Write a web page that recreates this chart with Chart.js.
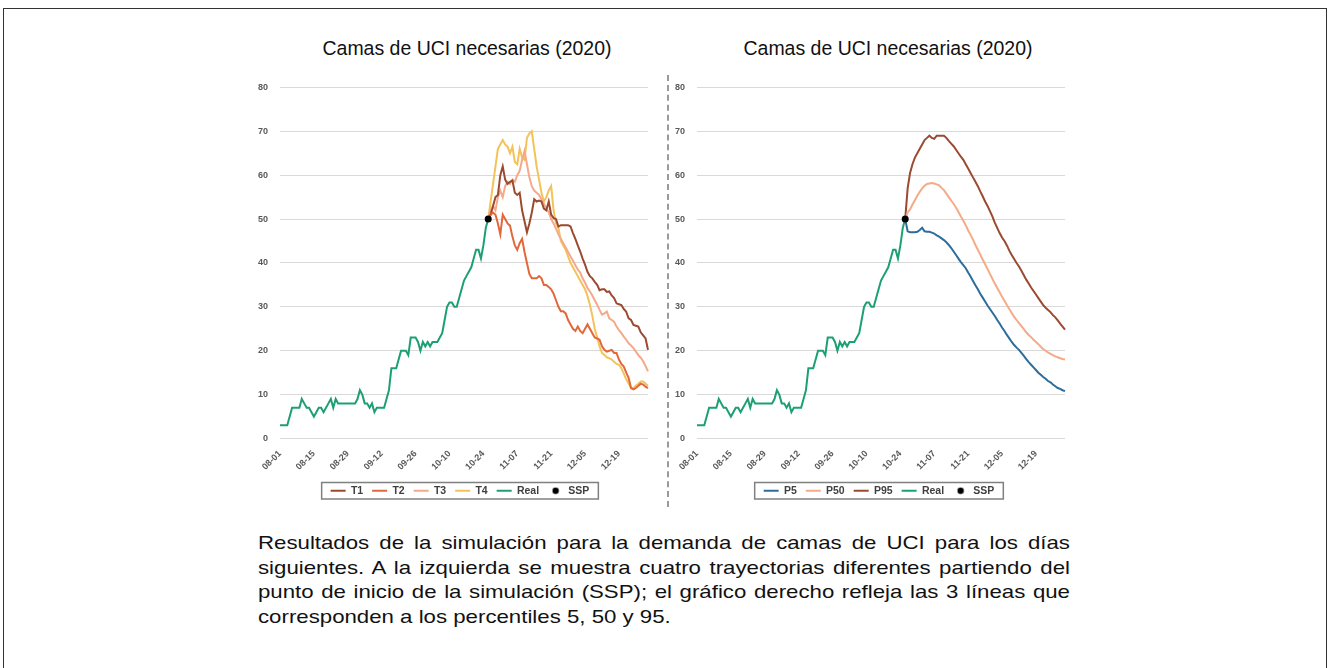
<!DOCTYPE html>
<html>
<head>
<meta charset="utf-8">
<script src="https://cdn.jsdelivr.net/npm/chart.js@4.4.0/dist/chart.umd.min.js"></script>
<style>
  body { margin: 0; background: #fff; width: 1330px; height: 668px; overflow: hidden; position: relative; font-family: 'Liberation Sans', Arial, sans-serif; }
  .frame { position: absolute; left: 3px; top: 8px; width: 1322px; height: 700px; border: 1.5px solid #333; }
  .title { position: absolute; top: 36px; width: 420px; text-align: center; font-size: 20.5px; color: #111; transform: scaleX(0.95); }
  .sep { position: absolute; left: 667px; top: 75px; height: 432px; border-left: 2px dashed #9a9a9a; }
  .box { position: absolute; }
  .caption { position: absolute; left: 258px; top: 531px; width: 694px; font-size: 19px; line-height: 24.5px; color: #111; transform: scaleX(1.17); transform-origin: 0 0; }
  .caption div { text-align: justify; text-align-last: justify; }
  .caption div.last { text-align-last: left; }
</style>
</head>
<body>
<div class="frame"></div>
<div class="title" style="left:257px">Camas de UCI necesarias (2020)</div>
<div class="title" style="left:678px">Camas de UCI necesarias (2020)</div>
<div class="sep"></div>
<div class="box" style="left:256px; top:70px"><canvas id="left" width="404" height="436"></canvas></div>
<div class="box" style="left:673px; top:70px"><canvas id="right" width="404" height="436"></canvas></div>
<div class="caption">
  <div>Resultados de la simulación para la demanda de camas de UCI para los días</div>
  <div>siguientes. A la izquierda se muestra cuatro trayectorias diferentes partiendo del</div>
  <div>punto de inicio de la simulación (SSP); el gráfico derecho refleja las 3 líneas que</div>
  <div class="last">corresponden a los percentiles 5, 50 y 95.</div>
</div>

<script>
// dates 08-01 .. 12-31, one label per day
const months = [['08', 31], ['09', 30], ['10', 31], ['11', 30], ['12', 31]];
const days = [];
months.forEach(([m, n]) => { for (let d = 1; d <= n; d++) days.push(m + '-' + String(d).padStart(2, '0')); });
const tickStep = 14;
const sspIndex = 86;   // 10-26
const sspValue = [50];

// observed beds, 08-01 .. 10-26
const real = [3,3,3,3,5,7,7,7,7,9, 8,7,7,6,5,6,7,7,6,7, 8,9,7,9,8,8,8,8,8,8,
  8,8,9,11,10,8,8,7,8,6, 7,7,7,7,9,11,16,16,16,18, 20,20,20,19,23,23,23,22,20,22,
  21,22,21,22,22,22,23,24,27,30, 31,31,30,30,32,34,36,37,38,39, 41,43,43,41,44,48,50];

// simulated trajectories, 10-26 .. 12-31
const t1 = [50,51,53,55,55.5,60,62,59,58,58.5, 58.8,56,55.5,56,52,49.5,47,49,51.5,54.5,
  54,54.2,54,52.4,52,54,51,50.2,50,48.3, 48.6,48.6,48.6,48.6,48.3,46.8,45.5,44,42.6,41,
  39.6,38,37,36.5,35.7,35,33.8,34,34,33.4, 33.5,32.6,32,30.8,30.6,30.4,29.5,28.9,27.4,27,
  25.9,25.7,25.5,24.2,23.5,22.8,20.2];
const t2 = [50,51,51.5,51,49,46.5,51,50,49,48.5, 46,44,43,44.5,45.5,42.5,40,37.5,36.5,36.5,
  36.5,37,36.5,35,35,34.5,34,33,31.5,30, 29,29,28.5,27,26,25,24.5,25.5,24.5,24,
  25,26,25,24,23,22.8,22.5,21,20.2,19.8, 20,20.2,19.5,19.5,18,17,16.4,15,13.8,11.5,
  11.2,11.5,12,12.5,12.3,11.8,11.5];
const t3 = [50,52,53,52,55,56.5,55,57.5,58.5,58, 59,58.5,60,61,63.5,65.5,62.5,59.5,57.5,56.5,
  56,55.5,54.5,53.5,52.5,51.5,50,49,47.8,46.5, 45.5,44.5,43.5,42.5,41.5,40.5,39.5,38.5,37.8,36.5,
  35.5,34.3,33.5,32.6,31.5,30.5,29.3,28.2,28.5,28.9, 27.4,27,26.6,25.5,24.7,24,23.2,22.5,21.7,21.2,
  20.6,19.8,19,18.4,17.6,16.5,15.3];
const t4 = [50,54,58,62,66,67,68,67,66.5,65, 66.5,63,62.5,66,64,63.5,68.5,69.5,70,66,
  62,59,56,54,55,56.5,57.5,52,49,48, 45,44,43,41.5,40,39,38,37,36,35,
  34,32.5,30.5,28,25,23,21,19.5,19,18.5, 18.3,18,17.5,17,16.8,16,14.8,13.5,12.5,11.5,
  11.5,12,12.5,13,13,12.5,12];

// percentiles, 10-26 .. 12-31
const p5 = [50,47.2,47,47,47,47.1,47.5,48,47.2,47.1, 47.1,46.9,46.7,46.3,46,45.6,45.2,44.7,44.1,43.4,
  42.6,41.8,41,40.2,39.5,38.8,37.8,36.9,35.9,34.9, 34,33,32.1,31.2,30.3,29.5,28.7,27.9,27,26.2,
  25.3,24.5,23.6,22.8,22,21.3,20.7,20.2,19.5,18.8, 18.1,17.4,16.8,16.2,15.6,15,14.5,14,13.6,13.1,
  12.8,12.3,11.9,11.5,11.3,11,10.8];
const p50 = [50,51.5,52.2,53.3,54.3,55.3,56.2,57,57.6,58, 58.1,58.2,58.1,57.9,57.7,57.1,56.6,55.8,55,54.2,
  53.5,52.6,51.6,50.6,49.6,48.6,47.4,46.4,45.3,44.1, 43,41.9,40.8,39.7,38.6,37.5,36.4,35.3,34.3,33.3,
  32.3,31.4,30.4,29.5,28.6,27.7,27,26.3,25.6,24.9, 24.2,23.6,23.1,22.5,22,21.5,20.9,20.4,20,19.6,
  19.3,19,18.7,18.5,18.3,18.1,18];
const p95 = [50,57,60.5,62.5,64,65,66,67,68,68.5, 69,68.5,68.3,69,69,69,69,68.5,67.8,67.2,
  66.6,65.8,65,64.2,63.5,62.5,61.5,60.5,59.5,58.5, 57.5,56.3,55.2,54,53,51.8,50.6,49.2,48,46.8,
  45.8,45,44,42.8,41.8,40.9,40,39.2,38.2,37.2, 36.2,35.3,34.4,33.6,32.8,32,31.2,30.4,29.8,29.3,
  28.8,28.1,27.6,26.9,26.2,25.5,24.8];

const fromSSP = arr => Array(sspIndex).fill(null).concat(arr);

const tickFont = { family: "'Liberation Sans', sans-serif", size: 9, weight: 'bold' };

// small round marker for the SSP legend entry
const dot = document.createElement('canvas');
dot.width = 8; dot.height = 8;
(() => { const c = dot.getContext('2d'); c.fillStyle = '#000'; c.beginPath(); c.arc(4, 4, 3.2, 0, Math.PI * 2); c.fill(); })();

// nudge the legend sideways and put a grey frame around its items
const legendBox = {
  id: 'legendBox',
  afterUpdate(chart, args, opts) {
    chart.legend.left += opts.dx;
    chart.legend.right += opts.dx;
  },
  afterDraw(chart, args, opts) {
    const hb = chart.legend.legendHitBoxes;
    if (!hb || !hb.length) return;
    const l = Math.min(...hb.map(b => b.left)) - 9 + opts.dx;
    const r = Math.max(...hb.map(b => b.left + b.width)) + 9 + opts.dx;
    const t = hb[0].top - 3, b = hb[0].top + hb[0].height + 3;
    const ctx = chart.ctx;
    ctx.save();
    ctx.strokeStyle = '#808080';
    ctx.lineWidth = 1.5;
    ctx.strokeRect(l, t, r - l, b - t);
    ctx.restore();
  }
};

function makeChart(id, series, dx) {
  const datasets = series.map(s => ({
    label: s.label, data: s.data, borderColor: s.color, backgroundColor: s.color,
    borderWidth: 2, pointRadius: 0, tension: 0, order: s.order
  }));
  datasets.push({
    label: 'SSP', data: fromSSP(sspValue), borderColor: '#000', backgroundColor: '#000',
    borderWidth: 0, pointRadius: 3.5, showLine: false, order: 0
  });

  new Chart(document.getElementById(id), {
    type: 'line',
    data: { labels: days, datasets },
    options: {
      responsive: false, animation: false, devicePixelRatio: 1,
      layout: { padding: { left: 0, right: 12, top: 15, bottom: 0 } },
      plugins: {
        tooltip: { enabled: false },
        legendBox: { dx },
        legend: {
          position: 'bottom',
          labels: {
            usePointStyle: true, pointStyleWidth: 15, boxHeight: 5, padding: 9,
            color: '#404040', font: { family: "'Liberation Sans', sans-serif", size: 10.5, weight: 'bold' },
            sort: (a, b) => a.datasetIndex - b.datasetIndex,
            generateLabels: chart => Chart.defaults.plugins.legend.labels.generateLabels(chart).map(it => ({
              ...it, pointStyle: it.text === 'SSP' ? dot : 'line', lineWidth: it.text === 'SSP' ? 0 : 2
            }))
          }
        }
      },
      scales: {
        x: {
          grid: { display: false }, border: { display: false },
          ticks: {
            autoSkip: false, minRotation: 45, maxRotation: 45, padding: 2,
            color: '#595959', font: tickFont,
            callback: (v, i) => (i % tickStep === 0 ? days[i] : null)
          },
          afterFit: a => { a.height = 38; }
        },
        y: {
          min: 0, max: 80,
          grid: { color: '#d9d9d9', drawTicks: false },
          border: { display: false },
          ticks: { stepSize: 10, padding: 12, color: '#595959', font: tickFont },
          afterFit: a => { a.width = 24; }
        }
      }
    },
    plugins: [legendBox]
  });
}

makeChart('left', [
  { label: 'T1', data: fromSSP(t1), color: '#9c4a2f', order: 3 },
  { label: 'T2', data: fromSSP(t2), color: '#e2673a', order: 2 },
  { label: 'T3', data: fromSSP(t3), color: '#f5a98a', order: 4 },
  { label: 'T4', data: fromSSP(t4), color: '#f4c25a', order: 5 },
  { label: 'Real', data: real, color: '#1d9f74', order: 1 }
], 8);

makeChart('right', [
  { label: 'P5', data: fromSSP(p5), color: '#2c6d9c', order: 2 },
  { label: 'P50', data: fromSSP(p50), color: '#f5aa88', order: 3 },
  { label: 'P95', data: fromSSP(p95), color: '#9c4a2f', order: 4 },
  { label: 'Real', data: real, color: '#1d9f74', order: 1 }
], 10);
</script>
</body>
</html>
